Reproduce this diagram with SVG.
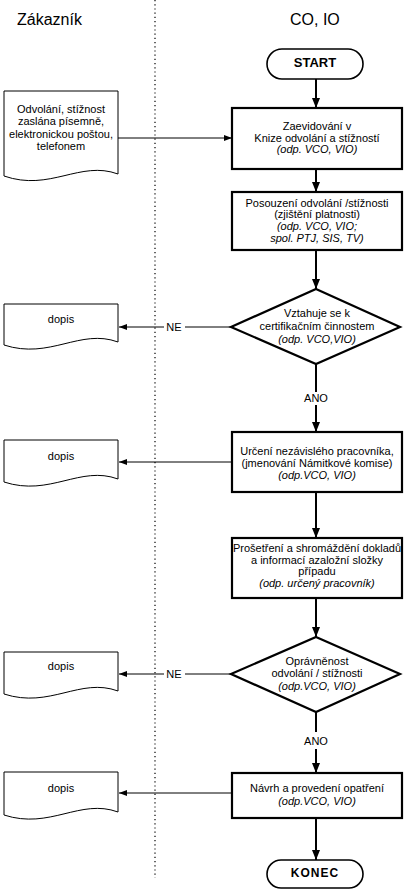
<svg xmlns="http://www.w3.org/2000/svg" width="404" height="894" viewBox="0 0 404 894">
<style>
text{font-family:"Liberation Sans",Arial,sans-serif;fill:#000;text-anchor:middle;font-size:11px}
.i{font-style:italic}
.h{font-size:16px;text-anchor:start}
.b{font-weight:bold;font-size:13px}
.box{fill:#fff;stroke:#000;stroke-width:2.2}
.doc{fill:#fff;stroke:#000;stroke-width:1}
.term{fill:#fff;stroke:#000;stroke-width:1.6}
.v{stroke:#000;stroke-width:2;fill:none}
.hz{stroke:#000;stroke-width:1;fill:none}
</style>
<defs>
<marker id="big" markerUnits="userSpaceOnUse" markerWidth="10" markerHeight="10" viewBox="0 0 10 10" refX="10" refY="5" orient="auto">
<path d="M0,1 L10,5 L0,9 Z" fill="#000"/>
</marker>
<marker id="sm" markerUnits="userSpaceOnUse" markerWidth="8" markerHeight="8" viewBox="0 0 8 8" refX="8" refY="4" orient="auto">
<path d="M0,1 L8,4 L0,7 Z" fill="#000"/>
</marker>
</defs>
<rect width="404" height="894" fill="#fff"/>
<line x1="155" y1="0" x2="155" y2="878" stroke="#000" stroke-width="1.2" stroke-dasharray="1.2 3"/>
<text class="h" x="17" y="25">Zákazník</text>
<text class="h" x="290" y="25">CO, IO</text>

<g id="connectors">
<line class="v" x1="316" y1="79" x2="316" y2="108" marker-end="url(#big)"/>
<line class="v" x1="316" y1="169" x2="316" y2="192" marker-end="url(#big)"/>
<line class="v" x1="316" y1="250" x2="316" y2="289" marker-end="url(#big)"/>
<line class="v" x1="316" y1="364" x2="316" y2="392"/>
<line class="v" x1="316" y1="405" x2="316" y2="432" marker-end="url(#big)"/>
<line class="v" x1="316" y1="492" x2="316" y2="538" marker-end="url(#big)"/>
<line class="v" x1="316" y1="598" x2="316" y2="637" marker-end="url(#big)"/>
<line class="v" x1="316" y1="712" x2="316" y2="732"/>
<line class="v" x1="316" y1="749" x2="316" y2="773" marker-end="url(#big)"/>
<line class="v" x1="316" y1="818" x2="316" y2="860" marker-end="url(#big)"/>
<line class="hz" x1="118" y1="138" x2="232" y2="138" marker-end="url(#sm)"/>
<line class="hz" x1="231" y1="327" x2="185" y2="327"/>
<line class="hz" x1="164" y1="327" x2="119" y2="327" marker-end="url(#sm)"/>
<line class="hz" x1="232" y1="462" x2="119" y2="462" marker-end="url(#sm)"/>
<line class="hz" x1="231" y1="674" x2="185" y2="674"/>
<line class="hz" x1="164" y1="674" x2="119" y2="674" marker-end="url(#sm)"/>
<line class="hz" x1="232" y1="793" x2="119" y2="793" marker-end="url(#sm)"/>
<text x="174" y="331">NE</text>
<text x="174" y="678">NE</text>
<text x="316" y="402">ANO</text>
<text x="316" y="745">ANO</text>
</g>

<g id="start">
<rect class="term" x="267" y="49" width="96" height="30" rx="15"/>
<text class="b" x="315" y="67">START</text>
</g>

<g id="doc-input">
<path class="doc" d="M4,91 H118 V174 C80,160 50,192 4,176 Z"/>
<text x="61" y="113">Odvolání, stížnost</text>
<text x="61" y="125">zaslána písemně,</text>
<text x="61" y="138">elektronickou poštou,</text>
<text x="61" y="150">telefonem</text>
</g>

<g id="box1">
<rect class="box" x="232" y="108" width="170" height="61"/>
<text x="317" y="130">Zaevidování v</text>
<text x="317" y="142">Knize odvolání a stížností</text>
<text class="i" x="317" y="153">(odp. VCO, VIO)</text>
</g>

<g id="box2">
<rect class="box" x="232" y="192" width="170" height="58"/>
<text x="317" y="207">Posouzení odvolání /stížnosti</text>
<text x="317" y="218">(zjištění platnosti)</text>
<text class="i" x="317" y="230">(odp. VCO, VIO;</text>
<text class="i" x="317" y="242">spol. PTJ, SIS, TV)</text>
</g>

<g id="dec1">
<path class="box" d="M316,289 L400,327 L316,364 L231,327 Z"/>
<text x="317" y="317">Vztahuje se k</text>
<text x="317" y="330">certifikačním činnostem</text>
<text class="i" x="317" y="343">(odp. VCO,VIO)</text>
</g>

<g id="dopis1">
<path class="doc" d="M4,304 H118 V342 C80,328 50,360 4,345 Z"/>
<text x="61" y="323">dopis</text>
</g>

<g id="box3">
<rect class="box" x="232" y="432" width="170" height="60"/>
<text x="317" y="455">Určení nezávislého pracovníka,</text>
<text x="317" y="467">(jmenování Námitkové komise)</text>
<text class="i" x="317" y="479">(odp.VCO, VIO)</text>
</g>

<g id="dopis2">
<path class="doc" d="M4,440 H118 V479 C80,465 50,497 4,482 Z"/>
<text x="61" y="460">dopis</text>
</g>

<g id="box4">
<rect class="box" x="232" y="538" width="170" height="60"/>
<text x="317" y="552">Prošetření a shromáždění dokladů</text>
<text x="317" y="564">a informací azaložní složky</text>
<text x="317" y="575">případu</text>
<text class="i" x="317" y="587">(odp. určený pracovník)</text>
</g>

<g id="dec2">
<path class="box" d="M316,637 L400,674 L316,712 L231,674 Z"/>
<text x="317" y="665">Oprávněnost</text>
<text x="317" y="677">odvolání / stížnosti</text>
<text class="i" x="317" y="690">(odp.VCO, VIO)</text>
</g>

<g id="dopis3">
<path class="doc" d="M4,652 H118 V691 C80,677 50,709 4,694 Z"/>
<text x="61" y="670">dopis</text>
</g>

<g id="box5">
<rect class="box" x="232" y="773" width="170" height="45"/>
<text x="317" y="792">Návrh a provedení opatření</text>
<text class="i" x="317" y="805">(odp.VCO, VIO)</text>
</g>

<g id="dopis4">
<path class="doc" d="M4,772 H118 V812 C80,798 50,830 4,815 Z"/>
<text x="61" y="792">dopis</text>
</g>

<g id="konec">
<rect class="term" x="267" y="860" width="96" height="28" rx="14"/>
<text class="b" x="315" y="877" style="font-size:12px;letter-spacing:1px">KONEC</text>
</g>
</svg>
